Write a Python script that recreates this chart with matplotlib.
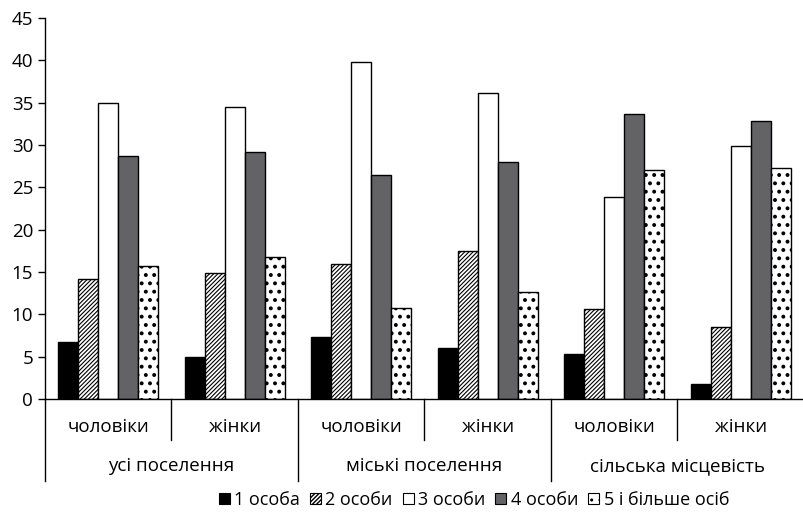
import matplotlib
matplotlib.use("Agg")
import matplotlib.pyplot as plt
from matplotlib.patches import Patch
import matplotlib.transforms as mtransforms

plt.rcParams['font.family'] = ['Open Sans', 'DejaVu Sans']

subgroups = ["чоловіки", "жінки", "чоловіки", "жінки", "чоловіки", "жінки"]
groups = ["усі поселення", "міські поселення", "сільська місцевість"]
series = ["1 особа", "2 особи", "3 особи", "4 особи", "5 і більше осіб"]

s1 = [6.7, 5.0, 7.3, 6.0, 5.3, 1.8]
s2 = [14.2, 14.9, 15.9, 17.5, 10.6, 8.5]
s3 = [35.0, 34.5, 39.8, 36.1, 23.9, 29.9]
s4 = [28.7, 29.2, 26.5, 28.0, 33.7, 32.8]
s5 = [15.7, 16.8, 10.8, 12.6, 27.1, 27.3]
values = [s1, s2, s3, s4, s5]

faces = ["black", "white", "white", "#636366", "white"]
hatches = [None, "////////", None, None, ".."]
hatch_lw = [0.8, 0.8, 0.8, 0.8, 1.6]

fig = plt.figure(figsize=(8.04, 5.18), dpi=100)
ax = fig.add_axes([45/804, 1-399/518, 1-45/804, (399-18)/518])

w = 20/127
for j, (vals, fc, h) in enumerate(zip(values, faces, hatches)):
    xs = [i + 0.5 + (j - 2) * w for i in range(len(vals))]
    with plt.rc_context({'hatch.linewidth': hatch_lw[j]}):
        bars = ax.bar(xs, vals, width=w, color=fc, edgecolor="black", linewidth=1.0,
                      hatch=h, label=series[j])
    for b in bars:
        if hasattr(b, "set_hatch_linewidth"):
            b.set_hatch_linewidth(hatch_lw[j])

ax.set_xlim(0, 6)
ax.set_ylim(0, 45)
ax.set_yticks(range(0, 46, 5))
ax.tick_params(axis='y', labelsize=13.5, length=5, width=1, direction='out')
ax.set_xticks([])
for s in ["top", "right"]:
    ax.spines[s].set_visible(False)
ax.spines["bottom"].set_linewidth(1)
ax.spines["left"].set_linewidth(1)

trans = mtransforms.blended_transform_factory(ax.transData, ax.transAxes)
h_ax = (399 - 18)
y_sub_line = -(440 - 399) / h_ax
y_grp_line = -(481 - 399) / h_ax
for i in range(1, 6):
    yb = y_grp_line if i % 2 == 0 else y_sub_line
    ax.plot([i, i], [0, yb], color="black", lw=1, transform=trans, clip_on=False)
ax.plot([0, 0], [0, y_grp_line], color="black", lw=1, transform=trans, clip_on=False)

y_sub_txt = -(427 - 399) / h_ax
y_grp_txt = -(466 - 399) / h_ax
for i, lab in enumerate(subgroups):
    ax.text(i + 0.5, y_sub_txt, lab, transform=trans, ha="center", va="center", fontsize=13.5)
for g, lab in enumerate(groups):
    ax.text(2 * g + 1, y_grp_txt, lab, transform=trans, ha="center", va="center", fontsize=13.5)

handles = []
for fc, h, hl in zip(faces, hatches, hatch_lw):
    with plt.rc_context({'hatch.linewidth': hl}):
        p = Patch(facecolor=fc, edgecolor="black", hatch=h, linewidth=0.8)
    if hasattr(p, "set_hatch_linewidth"):
        p.set_hatch_linewidth(hl)
    handles.append(p)
fig.legend(handles, series, loc="center", bbox_to_anchor=(474/804, 1-500/518), ncol=5,
           frameon=False, fontsize=13, handlelength=0.6, handleheight=0.6,
           handletextpad=0.25, columnspacing=0.55)

fig.savefig("out.png", dpi=100)
